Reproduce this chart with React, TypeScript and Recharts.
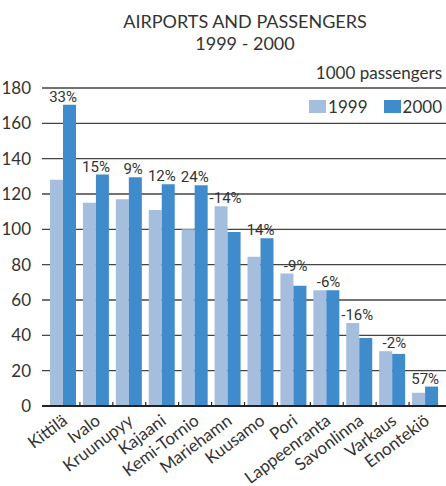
import React from 'react';
import { BarChart, Bar, XAxis, YAxis, CartesianGrid, LabelList } from 'recharts';

// Airports ordered by 2000 traffic (thousands of passengers)
const airports = [
  'Kittilä', 'Ivalo', 'Kruunupyy', 'Kajaani', 'Kemi-Tornio', 'Mariehamn',
  'Kuusamo', 'Pori', 'Lappeenranta', 'Savonlinna', 'Varkaus', 'Enontekiö',
];
const passengers1999 = [128, 115, 117, 111, 100, 113, 84.5, 75, 65.5, 47, 31, 7.5];
const passengers2000 = [170.5, 131, 129.5, 125.5, 125, 98.5, 95, 68, 65.5, 38.5, 29.5, 11];
const changeLabels = ['33%', '15%', '9%', '12%', '24%', '-14%', '14%', '-9%', '-6%', '-16%', '-2%', '57%'];
const yTicks = [0, 20, 40, 60, 80, 100, 120, 140, 160, 180];

const COLOR_1999 = '#A5BEDE';
const COLOR_2000 = '#408BCB';
const TEXT = '#333333';
const FONT = 'Lato, "Open Sans", sans-serif';
const NARROW = '"Liberation Sans Narrow", "Roboto", sans-serif';

const W = 446;
const H = 486;
const LEFT = 42;
const PAD_L = 5;
const PAD_R = 4;
const BAND = (W - LEFT - PAD_L - PAD_R) / airports.length;

const data = airports.map((name, i) => ({
  name,
  y1999: passengers1999[i],
  y2000: passengers2000[i],
  change: changeLabels[i],
}));

const AirportTick = (props: any) => {
  const { x, y, payload, index } = props;
  const tx = x + 5;
  const ty = y + 17;
  return (
    <g>
      {index < airports.length - 1 && (
        <line x1={x + BAND / 2} x2={x + BAND / 2} y1={y - 4} y2={y} stroke="#222" strokeWidth={1.2} />
      )}
      <text
        x={tx}
        y={ty}
        transform={`rotate(-37 ${tx} ${ty})`}
        textAnchor="end"
        fill={TEXT}
        fontSize={17}
        fontFamily={FONT}
      >
        {payload.value}
      </text>
    </g>
  );
};

// percent change placed above the taller bar of each pair
const ChangeLabel = (props: any) => {
  const { x, y, width, height, index } = props;
  const base = y + height;
  const v2000 = passengers2000[index];
  const v1999 = passengers1999[index];
  const top1999 = base - (height * v1999) / v2000;
  const top = Math.min(y, top1999);
  return (
    <text
      x={x + width + 1}
      y={top - 3}
      textAnchor="end"
      fill={TEXT}
      fontSize={15}
      fontFamily={NARROW}
    >
      {data[index].change}
    </text>
  );
};

const LegendItem = ({ color, label }: { color: string; label: string }) => (
  <span style={{ display: 'inline-flex', alignItems: 'center', marginLeft: 16 }}>
    <span style={{ width: 17, height: 13, background: color, display: 'inline-block', marginRight: 2 }} />
    <span>{label}</span>
  </span>
);

export default function App() {
  return (
    <div style={{ position: 'absolute', left: 0, top: 0, width: W, height: H, background: '#fff', fontFamily: FONT, color: TEXT }}>
      <div
        style={{
          position: 'absolute',
          top: 10,
          left: 245,
          transform: 'translateX(-50%)',
          whiteSpace: 'nowrap',
          textAlign: 'center',
          fontSize: 18,
          lineHeight: '22px',
        }}
      >
        <div>AIRPORTS AND PASSENGERS</div>
        <div>1999 - 2000</div>
      </div>
      <div style={{ position: 'absolute', top: 62, right: 4, fontSize: 17 }}>1000 passengers</div>
      <div style={{ position: 'absolute', top: 96, right: 4, fontSize: 17, display: 'flex', zIndex: 2 }}>
        <LegendItem color={COLOR_1999} label="1999" />
        <LegendItem color={COLOR_2000} label="2000" />
      </div>
      <BarChart
        width={W}
        height={H}
        data={data}
        margin={{ top: 88, right: 0, bottom: 0, left: 0 }}
        barCategoryGap={3}
        barGap={0}
      >
        <CartesianGrid vertical={false} stroke="#444" strokeWidth={1.4} />
        <XAxis
          dataKey="name"
          height={80}
          padding={{ left: PAD_L, right: PAD_R }}
          axisLine={{ stroke: '#222', strokeWidth: 2 }}
          tickLine={false}
          tickSize={0}
          tickMargin={0}
          interval={0}
          tick={<AirportTick />}
        />
        <YAxis
          width={LEFT}
          domain={[0, 180]}
          ticks={yTicks}
          axisLine={false}
          tickLine={false}
          tickMargin={5}
          tick={{ fill: TEXT, fontSize: 17, fontFamily: FONT }}
        />
        <Bar dataKey="y1999" fill={COLOR_1999} isAnimationActive={false} />
        <Bar dataKey="y2000" fill={COLOR_2000} isAnimationActive={false}>
          <LabelList dataKey="change" content={<ChangeLabel />} />
        </Bar>
      </BarChart>
    </div>
  );
}
